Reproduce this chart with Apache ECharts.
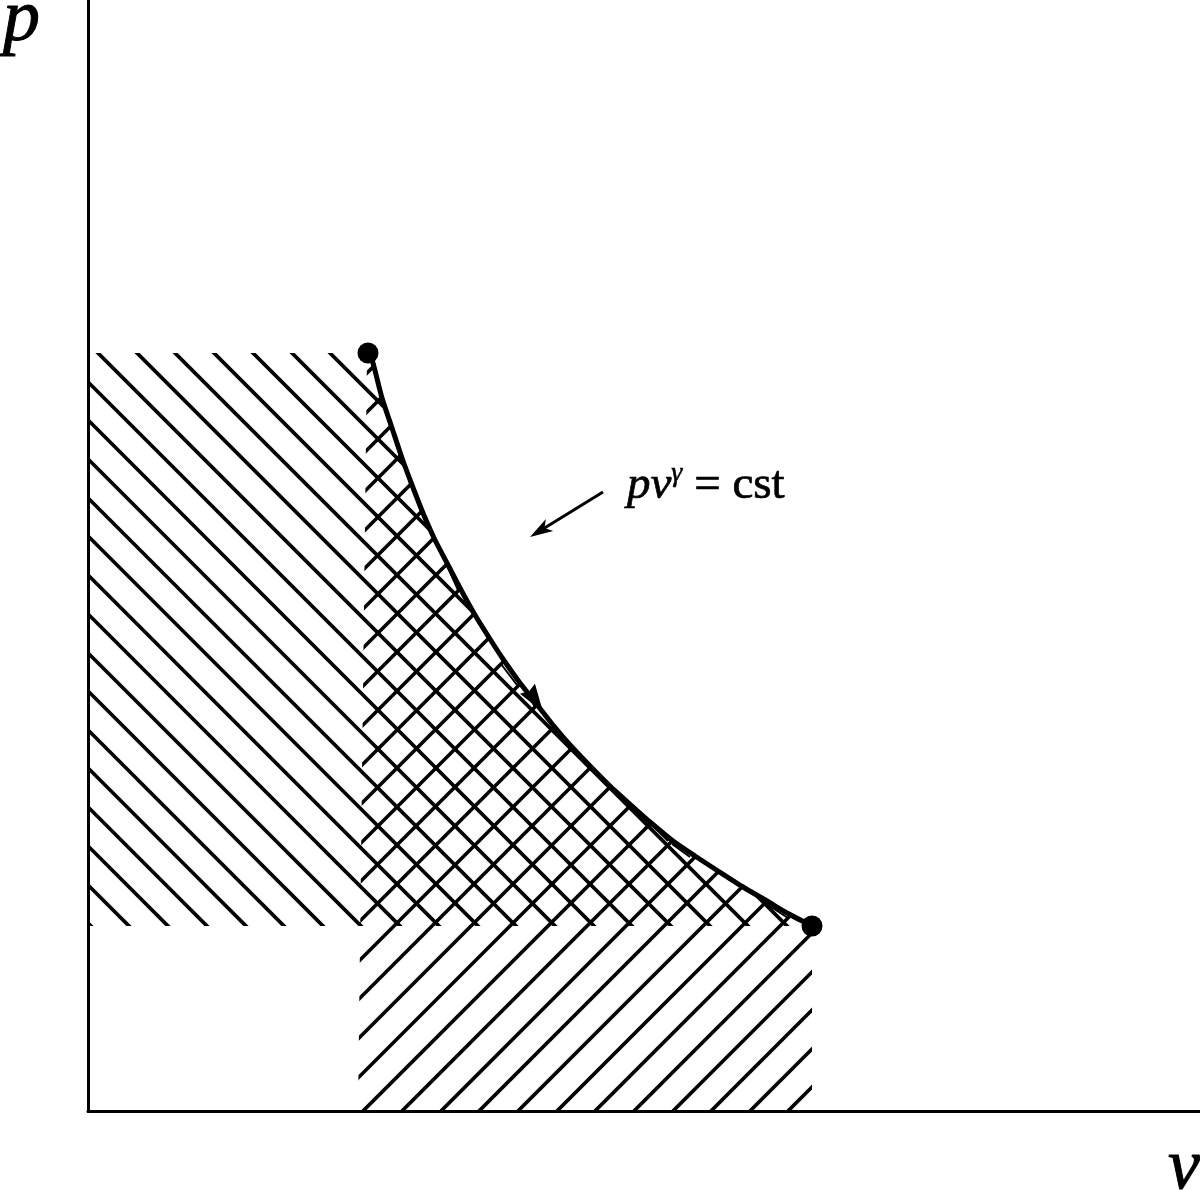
<!DOCTYPE html>
<html>
<head>
<meta charset="utf-8">
<style>html,body{margin:0;padding:0;background:#fff}#c{width:1200px;height:1190px}</style>
<script src="https://cdn.jsdelivr.net/npm/echarts@6/dist/echarts.min.js"></script>
</head>
<body>
<div id="c"></div>
<script>
// Expansion curve p v^gamma = cst as [v, p]
const curve = [[281,758],[285,748],[294,713],[304,683],[314,653],[324,626],[335,598],[347,571],[359,548],[372,523],[387,496],[402,472],[415,452],[432,428],[447,409],[465,386],[483,365],[504,343],[522,325],[544,305],[562,289],[585,270],[607,255],[630,240],[655,224],[679,210],[699,198],[724,185]];
const endPoints = [[280,758],[724,185]];
// Hatch families: falling lines v + p = s, rising lines v - p = d
const fallIntercepts = [1000,962,923,884,845,807,768,729,691,652,613,575,536,497,458,420,381,343,304,265,226,188];
const riseIntercepts = [-459,-420,-382,-343,-304,-266,-227,-188,-150,-111,-72,-34,5,43,82,121,159,198,237,275,314,353,391,430,469,507,546,585,623,662,700];
// Corners of the hatched areas that are not on the curve
const fallCornersBefore = [[0,758]];
const fallCornersAfter = [[0,185]];
const riseCornersBefore = [[279,758]];
const riseCornersAfter = [[724,0],[270,0]];
// Thin slivers running beside the curve
const slivers = [[310,655],[316,646],[null,null],[334,597],[345,576],[null,null],[358,548],[370,521],[null,null],[413,447],[429,426],[null,null],[440,416],[447,404],[null,null],[559,291],[580,270],[null,null],[584,267],[602,254],[null,null],[677,208],[700,193]];
// Arrows as [fromV, fromP, toV, toP]
const noteArrow = [[515,619,442,574]];
const flowArrow = [[443,417,455,399]];
const noteAnchor = [[539,625]];
const xName = 'v';
const yName = 'p';

const serif = '"Liberation Serif","Times New Roman",serif';
const chart = echarts.init(document.getElementById('c'), null, {renderer:'canvas'});

function hatch(region, endsOf) {
  return function (params, api) {
    const ends = endsOf(api.value(0));
    const a = api.coord(ends[0]), b = api.coord(ends[1]);
    return {
      type: 'line',
      shape: {x1:a[0], y1:a[1], x2:b[0], y2:b[1]},
      style: {stroke:'#000', lineWidth:3.7, fill:null},
      clipPath: {type:'polygon', shape:{points: region.map(function (p) { return api.coord(p); })}}
    };
  };
}
function arrow(len, half, notch, shaftW) {
  return function (params, api) {
    const a = api.coord([api.value(0), api.value(1)]);
    const t = api.coord([api.value(2), api.value(3)]);
    const dx = t[0]-a[0], dy = t[1]-a[1], L = Math.hypot(dx,dy), ux = dx/L, uy = dy/L;
    const nx = -uy, ny = ux;
    const bx = t[0]-ux*len, by = t[1]-uy*len;
    return {
      type: 'group',
      children: [
        {type:'line', shape:{x1:a[0],y1:a[1],x2:t[0]-ux*len*0.6,y2:t[1]-uy*len*0.6}, style:{stroke:'#000',lineWidth:shaftW,fill:null}},
        {type:'polygon', shape:{points:[[t[0],t[1]],[bx+nx*half,by+ny*half],[bx+ux*notch,by+uy*notch],[bx-nx*half,by-ny*half]]}, style:{fill:'#000'}}
      ]
    };
  };
}
const fallRegion = fallCornersBefore.concat(curve, fallCornersAfter);
const riseRegion = riseCornersBefore.concat(curve, riseCornersAfter);
const noAxisBits = {axisTick:{show:false}, axisLabel:{show:false}, splitLine:{show:false}};

chart.setOption({
  animation: false,
  backgroundColor: '#fff',
  grid: {left:88, right:0, top:0, bottom:79, containLabel:false, outerBoundsMode:'none'},
  xAxis: Object.assign({
    type:'value', min:0, max:1112, name:xName, nameLocation:'end', nameGap:0,
    nameTextStyle:{fontFamily:serif, fontStyle:'italic', fontSize:72, color:'#000', align:'right', verticalAlign:'top', padding:[22,0,0,0], textBorderColor:'#000', textBorderWidth:1},
    axisLine:{show:true, lineStyle:{color:'#000', width:3}}
  }, noAxisBits),
  yAxis: Object.assign({
    type:'value', min:0, max:1111, name:yName, nameLocation:'end', nameGap:0,
    nameTextStyle:{fontFamily:serif, fontStyle:'italic', fontSize:74, color:'#000', align:'right', verticalAlign:'top', padding:[-16,48,0,0], textBorderColor:'#000', textBorderWidth:1},
    axisLine:{show:true, lineStyle:{color:'#000', width:3}}
  }, noAxisBits),
  series: [
    {type:'custom', name:'falling hatch', data:fallIntercepts.map(function(s){return [s];}), encode:{x:0}, clip:true, z:2,
     renderItem: hatch(fallRegion, function (s) { return [[s,0],[0,s]]; })},
    {type:'custom', name:'rising hatch', data:riseIntercepts.map(function(d){return [d];}), encode:{x:0}, clip:true, z:2,
     renderItem: hatch(riseRegion, function (d) { return [[d,0],[d+1111,1111]]; })},
    {type:'line', name:'slivers', data:slivers, showSymbol:false, connectNulls:false, lineStyle:{color:'#000', width:2}, z:3},
    {type:'line', name:'curve', data:curve, showSymbol:false, smooth:0.2, lineStyle:{color:'#000', width:5}, z:4},
    {type:'scatter', name:'states', data:endPoints, symbol:'circle', symbolSize:21, itemStyle:{color:'#000', opacity:1}, z:5},
    {type:'custom', name:'note arrow', data:noteArrow, encode:{x:[0,2],y:[1,3]}, renderItem:arrow(23,7,6,3), z:5},
    {type:'custom', name:'flow arrow', data:flowArrow, encode:{x:[0,2],y:[1,3]}, renderItem:arrow(28,9,3,4), z:5},
    {type:'scatter', name:'note', data:noteAnchor, symbolSize:0, itemStyle:{opacity:1}, z:6,
     label:{show:true, position:'right', distance:0, opacity:1,
       formatter:'{a|pv}{g|γ}{b| = cst}',
       rich:{
         a:{fontFamily:serif, fontStyle:'italic', fontSize:47, color:'#000', textBorderColor:'#000', textBorderWidth:0.7},
         g:{fontFamily:serif, fontStyle:'italic', fontSize:28, color:'#000', padding:[0,0,24,0], textBorderColor:'#000', textBorderWidth:0.5},
         b:{fontFamily:serif, fontSize:47, color:'#000', textBorderColor:'#000', textBorderWidth:0.7}
       }}}
  ]
});
</script>
</body>
</html>
